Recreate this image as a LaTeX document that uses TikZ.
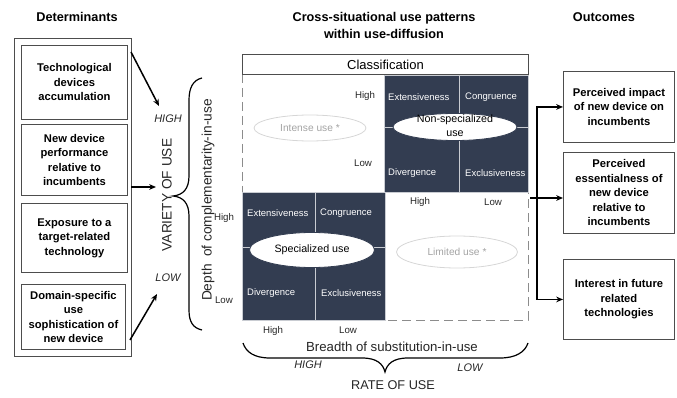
\documentclass[tikz,border=0pt]{standalone}
\usepackage{fontspec}
\setmainfont{Liberation Sans}
\usetikzlibrary{arrows.meta,shapes.geometric}
\definecolor{udfSlate}{HTML}{333D51}
\definecolor{udfLine}{HTML}{4D4D4D}
\definecolor{udfDash}{HTML}{8C8C8C}
\definecolor{udfFaint}{HTML}{A3A3A3}
\definecolor{udfRim}{HTML}{D6D6D6}
\definecolor{udfSep}{HTML}{C9CCD2}
\tikzset{
  udf frame/.style={draw=udfLine, line width=0.9pt, anchor=north west, inner sep=0pt},
  udf box/.style={draw=udfLine, line width=0.9pt, anchor=north west, inner sep=0pt, align=center, font=\fontsize{11.2}{14.5}\selectfont\bfseries},
  udf title/.style={font=\fontsize{12.7}{17}\selectfont\bfseries, align=center},
  udf cell/.style={draw=udfSep, fill=udfSlate, line width=1.4pt, anchor=north west, inner sep=0pt},
  udf cell label/.style={font=\fontsize{9.5}{11}\selectfont, text=white, anchor=west, inner sep=0pt},
  udf tick/.style={font=\fontsize{9.7}{11}\selectfont, text=black!85},
  udf pattern/.style={ellipse, draw=udfSlate, fill=white, line width=0.8pt, inner sep=0pt},
  udf empty/.style={ellipse, draw=udfRim, line width=0.8pt, inner sep=0pt, text=udfFaint, font=\fontsize{10.2}{12}\selectfont},
  udf dash/.style={draw=udfDash, line width=1pt, dash pattern=on 9pt off 5pt},
  udf arrow/.style={draw=black, line width=1.5pt, -{Stealth[length=2.4mm, width=2mm]}},
  udf brace/.style={draw=black, line width=1.2pt},
  udf axis/.style={font=\fontsize{13.7}{16}\selectfont, text=black!85},
  udf level/.style={font=\fontsize{11}{13}\selectfont\itshape, text=black!85},
}

\begin{document}
\begin{tikzpicture}[x=1pt, y=-1pt]
  \useasboundingbox (0,0) rectangle (677,398);

  % Column titles
  \node[udf title] (dettitle) at (77,17) {Determinants};
  \node[udf title] (mattitle) at (384,25) {Cross-situational use patterns\\within use-diffusion};
  \node[udf title] (outtitle) at (604,17) {Outcomes};

  % Determinants: frame with four boxes
  \node[udf frame, minimum width=117pt, minimum height=318pt] (detframe) at (14,38) {};
  \node[udf box, minimum width=106pt, minimum height=74pt] (det1) at (21,45) {Technological\\devices\\accumulation};
  \node[udf box, minimum width=106pt, minimum height=71pt] (det2) at (21,124) {New device\\performance\\relative to\\incumbents};
  \node[udf box, minimum width=106pt, minimum height=69pt] (det3) at (21,203) {Exposure to a\\target-related\\technology};
  \node[udf box, minimum width=104pt, minimum height=65pt] (det4) at (21,284) {Domain-specific\\use\\sophistication of\\new device};

  % Variety of use
  \node[udf level] (vhigh) at (168,119) {HIGH};
  \node[udf level] (vlow) at (168,278) {LOW};
  \node[udf axis, rotate=90] (variety) at (167,195) {VARIETY OF USE};
  \coordinate (d1) at (131,52);
  \coordinate (v1) at (159,106);
  \coordinate (d2) at (131,187);
  \coordinate (v2) at (156,187);
  \coordinate (d3) at (130,340);
  \coordinate (v3) at (157,294);
  \draw[udf arrow] (d1) -- (v1);
  \draw[udf arrow] (d2) -- (v2);
  \draw[udf arrow] (d3) -- (v3);

  % Brace for depth of complementarity
  \draw[udf brace] (202,78) .. controls (193,80) and (189,88) .. (189,100) -- (189,176)
    .. controls (189,189) and (183,195) .. (173,196)
    .. controls (183,197) and (189,203) .. (189,216) -- (189,310)
    .. controls (189,322) and (193,328) .. (202,330);
  \node[udf axis, rotate=90] (depth) at (208,200) {Depth\ \ of complementarity-in-use};
  \node[udf tick] (dhigh) at (224,218) {High};
  \node[udf tick] (dlow) at (224,300) {Low};

  % Classification matrix
  \draw[udf dash] (242,74) rectangle (528,320);
  \node[udf frame, minimum width=286pt, minimum height=20pt, font=\fontsize{13}{15}\selectfont, fill=white] (class) at (242,54) {Classification};
  \foreach \x/\y/\w/\h/\n in {384/75/75/52/a, 459/75/69/52/b, 384/127/75/65/c, 459/127/69/65/d,
                              242/192/73/55/e, 315/192/70/55/f, 242/247/73/73/g, 315/247/70/73/h} {
    \node[udf cell, minimum width=\w pt, minimum height=\h pt] (cell\n) at (\x,\y) {};
  }
  \node[udf cell label] (exta) at (388,97) {Extensiveness};
  \node[udf cell label] (cona) at (465,97) {Congruence};
  \node[udf cell label] (diva) at (388,173) {Divergence};
  \node[udf cell label] (exca) at (465,173) {Exclusiveness};
  \node[udf cell label] (extb) at (247,213) {Extensiveness};
  \node[udf cell label] (conb) at (320,213) {Congruence};
  \node[udf cell label] (divb) at (247,293) {Divergence};
  \node[udf cell label] (excb) at (321,293) {Exclusiveness};

  % Use patterns
  \node[udf pattern, minimum width=124pt, minimum height=27pt] (nonspec) at (455,127) {};
  \node[align=center, font=\fontsize{10.7}{14}\selectfont, inner sep=0pt] (nonspectext) at (455,126) {Non-specialized\\use};
  \node[udf pattern, minimum width=125pt, minimum height=35pt, font=\fontsize{10.7}{12}\selectfont] (spec) at (312,250) {Specialized use};
  \node[udf empty, minimum width=112pt, minimum height=26pt] (intense) at (310,128) {Intense use *};
  \node[udf empty, minimum width=121pt, minimum height=32pt] (limited) at (457,252) {Limited use *};

  % Levels inside the matrix
  \node[udf tick] (qhigh) at (365,96) {High};
  \node[udf tick] (qlow) at (363,163) {Low};
  \node[udf tick] (rhigh) at (420,202) {High};
  \node[udf tick] (rlow) at (493,202) {Low};
  \node[udf tick] (shigh) at (273,331) {High};
  \node[udf tick] (slow) at (348,330) {Low};

  % Brace for breadth of substitution
  \draw[udf brace] (243,343) .. controls (246,352) and (254,358) .. (270,358) -- (362,358)
    .. controls (377,358) and (383,364) .. (385,372)
    .. controls (387,364) and (393,358) .. (408,358) -- (500,358)
    .. controls (516,358) and (525,352) .. (528,343);
  \node[udf axis, font=\fontsize{13.2}{15}\selectfont] (breadth) at (392,347) {Breadth of substitution-in-use};
  \node[udf level] (rhighlvl) at (308,365) {HIGH};
  \node[udf level] (rlowlvl) at (470,368) {LOW};
  \node[udf axis, font=\fontsize{12.7}{15}\selectfont] (rate) at (393,385) {RATE OF USE};

  % Outcomes
  \node[udf box, minimum width=111pt, minimum height=71pt] (out1) at (563,71) {Perceived impact\\of new device on\\incumbents};
  \node[udf box, minimum width=111pt, minimum height=81pt] (out2) at (563,152) {Perceived\\essentialness of\\new device\\relative to\\incumbents};
  \node[udf box, minimum width=111pt, minimum height=80pt] (out3) at (563,259) {Interest in future\\related\\technologies};
  \coordinate (fork) at (537,198);
  \coordinate (mout) at (530,198);
  \draw[udf arrow] (fork) |- (out1.west);
  \draw[udf arrow] (fork) |- (out3.west);
  \draw[udf arrow] (mout) -- (mout -| out2.west);
\end{tikzpicture}
\end{document}
